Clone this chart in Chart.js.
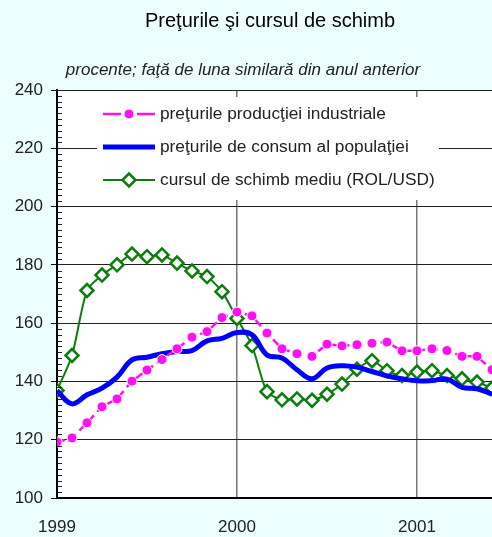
<!DOCTYPE html>
<html>
<head>
<meta charset="utf-8">
<script src="https://cdn.jsdelivr.net/npm/chart.js@4.4.1/dist/chart.umd.min.js"></script>
<style>
  html, body { margin: 0; padding: 0; background: #ecfffc; }
</style>
</head>
<body>
<canvas id="chart" width="492" height="537"></canvas>
<script>
// monthly values, Jan 1999 .. Jun 2001
const years = ["1999", "2000", "2001"];
const producerPrices = [119.2, 120.6, 125.8, 131.3, 134.0, 140.1, 143.9, 147.5, 151.2, 155.2, 157.1, 161.9,
                        163.8, 162.5, 156.6, 151.2, 149.5, 148.6, 152.8, 152.2, 152.6, 153.1, 153.5, 150.5,
                        150.5, 151.2, 150.6, 148.6, 148.6, 144.0];
const consumerPrices = [136.8, 132.3, 135.4, 137.7, 141.5, 147.4, 148.3, 149.5, 150.3, 150.6, 153.9, 154.8,
                        156.8, 156.0, 149.1, 148.0, 144.0, 140.9, 144.6, 145.4, 144.9, 143.4, 141.9, 140.9,
                        140.2, 140.3, 140.8, 138.0, 137.5, 135.6];
const exchangeRate = [136.9, 148.9, 171.2, 176.5, 180.0, 183.7, 182.8, 183.4, 180.6, 177.9, 176.0, 170.8,
                      161.6, 152.3, 136.5, 133.7, 134.0, 133.5, 135.6, 139.1, 144.2, 147.1, 143.7, 142.0,
                      143.2, 143.7, 142.0, 140.9, 139.8, 137.7];
const seriesNames = ["preţurile producţiei industriale", "preţurile de consum al populaţiei", "cursul de schimb mediu (ROL/USD)"];

const months = producerPrices.map((v, i) => i);
const toPoints = arr => arr.map((v, i) => ({ x: months[i], y: v }));

const FONT = "'Liberation Sans', Arial, sans-serif";
const TEXT = "#222";

// white plot area
const plotBg = {
  id: "plotBg",
  beforeDraw(chart) {
    const a = chart.chartArea, ctx = chart.ctx;
    ctx.save();
    ctx.fillStyle = "#ffffff";
    ctx.fillRect(a.left, a.top, a.right - a.left, a.bottom - a.top);
    ctx.restore();
  }
};

// small ticks every 2 units, inside the y axis
const minorTicks = {
  id: "minorTicks",
  afterDatasetsDraw(chart) {
    const y = chart.scales.y, ctx = chart.ctx, left = chart.chartArea.left;
    ctx.save();
    ctx.strokeStyle = "#222";
    ctx.lineWidth = 1;
    for (let v = 100; v <= 240; v += 2) {
      if (v % 20 === 0) continue;
      const py = Math.round(y.getPixelForValue(v)) + 0.5;
      ctx.beginPath();
      ctx.moveTo(left, py);
      ctx.lineTo(left + 5, py);
      ctx.stroke();
    }
    ctx.restore();
  }
};

// legend box inside the plot
const boxLegend = {
  id: "boxLegend",
  beforeDatasetsDraw(chart) {
    const ctx = chart.ctx;
    const bx = 97, by = 97, bw = 342, bh = 103;
    ctx.save();
    ctx.fillStyle = "#ffffff";
    ctx.fillRect(bx, by, bw, bh);
    chart.data.datasets.forEach((ds, i) => {
      const ly = 114 + i * 33;
      ctx.save();
      ctx.strokeStyle = ds.borderColor;
      ctx.lineWidth = ds.borderWidth;
      ctx.beginPath();
      if (ds.borderDash) {
        ctx.moveTo(103, ly); ctx.lineTo(121, ly);
        ctx.moveTo(137, ly); ctx.lineTo(155, ly);
      } else {
        ctx.moveTo(103, ly); ctx.lineTo(155, ly);
      }
      ctx.stroke();
      ctx.restore();
      if (ds.pointRadius > 0) {
        ctx.save();
        ctx.fillStyle = ds.pointBackgroundColor;
        ctx.strokeStyle = ds.pointBorderColor;
        ctx.lineWidth = ds.pointBorderWidth;
        Chart.helpers.drawPoint(ctx, {
          pointStyle: ds.pointStyle, radius: ds.pointRadius, rotation: 0, borderWidth: ds.pointBorderWidth
        }, 129, ly);
        ctx.restore();
      }
      ctx.fillStyle = TEXT;
      ctx.font = "17.3px " + FONT;
      ctx.textBaseline = "middle";
      ctx.textAlign = "left";
      ctx.fillText(ds.label, 160, ly);
    });
    ctx.restore();
  }
};

// title and subtitle
const titles = {
  id: "titles",
  afterDraw(chart) {
    const ctx = chart.ctx;
    ctx.save();
    ctx.fillStyle = "#000";
    ctx.textAlign = "center";
    ctx.textBaseline = "middle";
    ctx.font = "20px " + FONT;
    ctx.fillText("Preţurile şi cursul de schimb", 270, 21);
    ctx.fillStyle = TEXT;
    ctx.font = "italic 17px " + FONT;
    ctx.fillText("procente; faţă de luna similară din anul anterior", 243, 70);
    ctx.restore();
  }
};

const chart = new Chart(document.getElementById("chart"), {
  type: "line",
  data: {
    datasets: [
      {
        label: seriesNames[0],
        data: toPoints(producerPrices),
        borderColor: "#ff10f0",
        borderWidth: 2.5,
        borderDash: [8, 5],
        tension: 0,
        pointStyle: "circle",
        pointRadius: 5,
        pointBackgroundColor: "#ff10f0",
        pointBorderColor: "#ffffff",
        pointBorderWidth: 1
      },
      {
        label: seriesNames[1],
        data: toPoints(consumerPrices),
        borderColor: "#0000ff",
        borderWidth: 5,
        tension: 0.4,
        pointRadius: 0
      },
      {
        label: seriesNames[2],
        data: toPoints(exchangeRate),
        borderColor: "#0a7d0a",
        borderWidth: 2,
        tension: 0.25,
        pointStyle: "rectRot",
        pointRadius: 6.5,
        pointBackgroundColor: "#ffffff",
        pointBorderColor: "#0a7d0a",
        pointBorderWidth: 2.5
      }
    ]
  },
  options: {
    responsive: false,
    animation: false,
    devicePixelRatio: 1,
    layout: { autoPadding: false, padding: { top: 90, left: 0, right: 0, bottom: 0 } },
    plugins: {
      legend: { display: false },
      title: { display: false },
      tooltip: { enabled: false }
    },
    scales: {
      x: {
        type: "linear",
        min: 0,
        max: 29,
        afterFit: s => { s.height = 39; },
        ticks: {
          stepSize: 12,
          includeBounds: false,
          autoSkip: false,
          maxRotation: 0,
          padding: 19,
          color: TEXT,
          font: { family: FONT, size: 17 },
          callback: v => (v % 12 === 0 ? years[v / 12] : "")
        },
        grid: {
          drawTicks: false,
          color: "#777",
          lineWidth: ctx => (ctx.tick && ctx.tick.value === 0 ? 0 : 1.5)
        },
        border: { color: "#000", width: 2 }
      },
      y: {
        min: 100,
        max: 240,
        afterFit: s => { s.width = 57; },
        ticks: {
          stepSize: 20,
          padding: 8,
          color: TEXT,
          font: { family: FONT, size: 17 }
        },
        grid: {
          color: "#222",
          lineWidth: 1,
          tickLength: 6,
          tickColor: "#000"
        },
        border: { color: "#000", width: 2 }
      }
    }
  },
  plugins: [plotBg, boxLegend, minorTicks, titles]
});
</script>
</body>
</html>
